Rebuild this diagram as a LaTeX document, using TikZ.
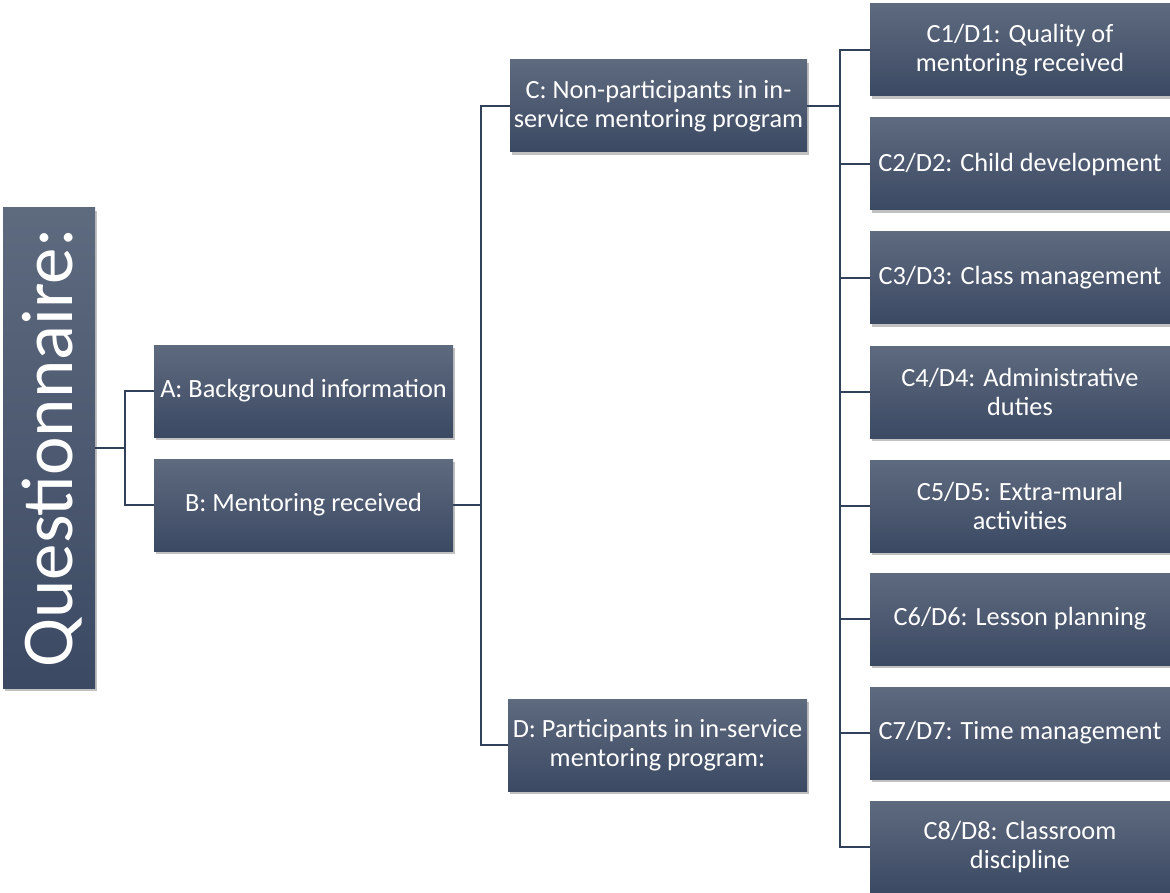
\documentclass[tikz,border=0pt]{standalone}
\usepackage{fontspec}
\setmainfont{Carlito}
\usetikzlibrary{shadows}
\definecolor{boxtop}{RGB}{94,106,126}
\definecolor{boxbot}{RGB}{59,73,99}
\definecolor{linkcol}{RGB}{50,65,90}
\tikzset{
  box/.style={rectangle, inner sep=0pt, minimum width=300pt, minimum height=92pt,
    top color=boxtop, bottom color=boxbot, text=white, align=center,
    font=\fontsize{26.3}{29}\selectfont,
    drop shadow={shadow xshift=2pt, shadow yshift=-3pt, opacity=0.35, fill=black!70}},
  link/.style={draw=linkcol, line width=2pt}
}
\begin{document}
\begin{tikzpicture}[x=1pt,y=-1pt]
\useasboundingbox (0,0) rectangle (1170,893);
% root
\node[box, minimum width=92pt, minimum height=480pt] (Q) at (49,448) {};
\node[text=white, rotate=90, font=\fontsize{73}{80}\selectfont, inner sep=0pt] (Qt) at (52,448) {Questionnaire:};
% sections
\node[box, minimum width=299pt] (A) at (303.5,391) {A: Background information};
\node[box, minimum width=299pt] (B) at (303.5,505) {B: Mentoring received};
\node[box, minimum width=297pt] (C) at (658.5,106) {C: Non-participants in in-\\service mentoring program};
\node[box, minimum width=299pt] (D) at (657.5,745) {D: Participants in in-service\\mentoring program:};
% sub-sections
\node[box] (R1) at (1020,50)  {C1/D1: Quality of\\mentoring received};
\node[box] (R2) at (1020,164) {C2/D2: Child development};
\node[box] (R3) at (1020,278) {C3/D3: Class management};
\node[box] (R4) at (1020,392) {C4/D4: Administrative\\duties};
\node[box] (R5) at (1020,506) {C5/D5: Extra-mural\\activities};
\node[box] (R6) at (1020,619) {C6/D6: Lesson planning};
\node[box] (R7) at (1020,733) {C7/D7: Time management};
\node[box] (R8) at (1020,847) {C8/D8: Classroom\\discipline};
% junctions
\coordinate (j1) at (125,448);
\coordinate (j2) at (481,505);
\coordinate (j3) at (840,106);
% connectors
\draw[link] (Q.east) -- (j1);
\draw[link] (A.west) -| (j1) |- (B.west);
\draw[link] (B.east) -- (j2);
\draw[link] (C.west) -| (j2) |- (D.west);
\draw[link] (C.east) -- (j3);
\draw[link] (R1.west) -| (j3) |- (R8.west);
\foreach \r in {R2,R3,R4,R5,R6,R7}
  \draw[link] (\r.west) -- (\r.west -| j3);
\end{tikzpicture}
\end{document}
